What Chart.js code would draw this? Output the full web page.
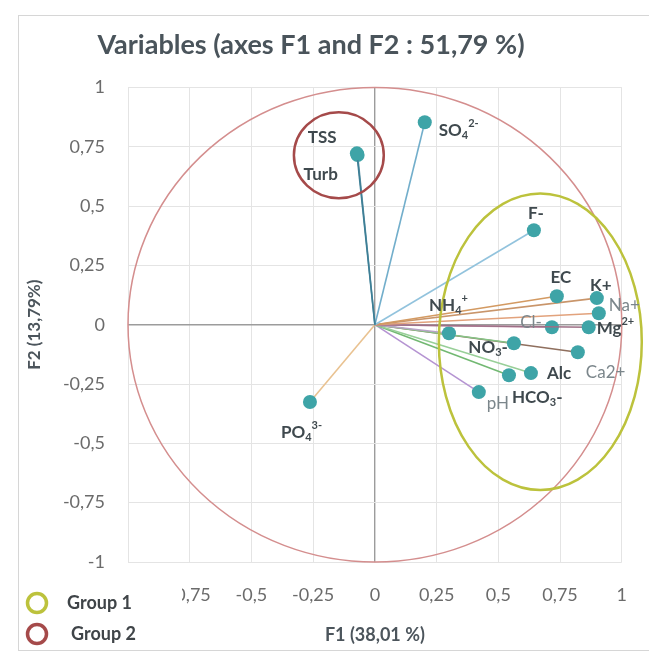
<!DOCTYPE html>
<html>
<head>
<meta charset="utf-8">
<script src="https://cdn.jsdelivr.net/npm/chart.js@4/dist/chart.umd.min.js"></script>
<style>
  body { margin: 0; background: #fff; }
  #wrap { width: 649px; height: 657px; }
</style>
</head>
<body>
<div id="wrap"><canvas id="pca" width="649" height="657"></canvas></div>
<script>
// valori (coordinate F1 / F2 delle variabili)
const variables = ['TSS', 'Turb', 'SO4', 'F-', 'EC', 'K+', 'Na+', 'Mg2+', 'Cl-', 'NH4+', 'NO3-', 'Ca2+', 'Alc', 'HCO3-', 'pH', 'PO4'];
const labelText = ['TSS', 'Turb', 'SO_4^2-', 'F-', 'EC', 'K+', 'Na+', 'Mg^2+', 'Cl-', 'NH_4^+', 'NO_3-', 'Ca2+', 'Alc', 'HCO_3-', 'pH', 'PO_4^3-'];
const f1 = [-0.073, -0.07, 0.202, 0.644, 0.737, 0.899, 0.907, 0.866, 0.717, 0.300, 0.563, 0.822, 0.632, 0.543, 0.421, -0.263];
const f2 = [0.722, 0.715, 0.853, 0.398, 0.120, 0.112, 0.048, -0.011, -0.011, -0.036, -0.078, -0.116, -0.204, -0.213, -0.284, -0.326];
const axisTicks = [-1, -0.75, -0.5, -0.25, 0, 0.25, 0.5, 0.75, 1];
const groupNames = ['Group 1', 'Group 2'];
// ellissi dei gruppi: centro e raggi in unita' degli assi
const group1 = { cx: 0.67, cy: -0.072, rx: 0.411, ry: 0.625 };
const group2 = { cx: -0.146, cy: 0.714, rx: 0.182, ry: 0.181 };

// stile
const lineColors = ['#3d7f96', '#5b8fa3', '#72aecb', '#92c3dd', '#d39a62', '#c9956a', '#e2a27c', '#9e6f86',
  '#c893ae', '#b9a3c7', '#86c486', '#8f6f5e', '#98cf98', '#72b872', '#b594d2', '#e9c291'];
// posizione delle etichette rispetto al punto (pixel)
const labelPos = {
  'TSS': [-49, -16, 'left', true], 'Turb': [-54, 19, 'left', true], 'SO4': [14, 8, 'left', true],
  'F-': [2, -17, 'center', true], 'EC': [4, -19, 'center', true], 'K+': [4, -13, 'center', true],
  'Na+': [10, -8, 'left', false], 'Mg2+': [8, 1, 'left', true], 'Cl-': [-10, -5, 'right', false],
  'NH4+': [-20, -28, 'left', true], 'NO3-': [-6, 4, 'right', true], 'Ca2+': [8, 20, 'left', false],
  'Alc': [16, 0, 'left', true], 'HCO3-': [3, 22, 'left', true], 'pH': [8, 11, 'left', false],
  'PO4': [-29, 30, 'left', true]
};
const FONT = 'Lato, "Open Sans", sans-serif';

function fmt(v) { return String(v).replace('.', ','); }

// scrive testo con pedici (_) e apici (^)
function parseLabel(s) {
  let segs = [], mode = 'n', cur = '';
  for (let ch of s) {
    if (ch === '_' || ch === '^') {
      if (cur) segs.push({ t: cur, m: mode });
      cur = ''; mode = ch === '_' ? 'sub' : 'sup';
    } else if (mode === 'sub' && !/[0-9]/.test(ch)) {
      if (cur) segs.push({ t: cur, m: mode });
      cur = ch; mode = 'n';
    } else cur += ch;
  }
  if (cur) segs.push({ t: cur, m: mode });
  return segs;
}

function drawRich(ctx, s, x, y, align, bold) {
  const segs = parseLabel(s);
  const w = bold ? 'bold ' : '';
  const big = w + '17px ' + FONT, small = w + '11px ' + FONT;
  let total = 0;
  segs.forEach(g => { ctx.font = g.m === 'n' ? big : small; total += ctx.measureText(g.t).width; });
  let sx = align === 'left' ? x : align === 'right' ? x - total : x - total / 2;
  ctx.textAlign = 'left';
  ctx.textBaseline = 'middle';
  segs.forEach(g => {
    ctx.font = g.m === 'n' ? big : small;
    let dy = g.m === 'sub' ? 5 : g.m === 'sup' ? -7 : 0;
    ctx.fillText(g.t, sx, y + dy);
    sx += ctx.measureText(g.t).width;
  });
}

const decor = {
  id: 'decor',
  beforeDraw(chart) {
    const ctx = chart.ctx;
    ctx.save();
    ctx.strokeStyle = '#d6d6d6';
    ctx.lineWidth = 1;
    ctx.strokeRect(18.5, 15.5, 700, 635);
    ctx.restore();
  },
  beforeDatasetsDraw(chart) {
    const { ctx, scales: { x, y } } = chart;
    const ux = x.getPixelForValue(1) - x.getPixelForValue(0);
    const uy = y.getPixelForValue(0) - y.getPixelForValue(1);
    ctx.save();
    ctx.strokeStyle = '#d48e8e';
    ctx.lineWidth = 1.5;
    ctx.beginPath();
    ctx.ellipse(x.getPixelForValue(0), y.getPixelForValue(0), ux, uy, 0, 0, Math.PI * 2);
    ctx.stroke();
    ctx.restore();
  },
  afterDatasetsDraw(chart) {
    const { ctx, scales: { x, y } } = chart;
    const ux = x.getPixelForValue(1) - x.getPixelForValue(0);
    const uy = y.getPixelForValue(0) - y.getPixelForValue(1);
    ctx.save();
    [[group1, '#bcc23c'], [group2, '#a54a4a']].forEach(([g, c]) => {
      ctx.strokeStyle = c;
      ctx.lineWidth = 2.5;
      ctx.beginPath();
      ctx.ellipse(x.getPixelForValue(g.cx), y.getPixelForValue(g.cy), g.rx * ux, g.ry * uy, 0, 0, Math.PI * 2);
      ctx.stroke();
    });
    // etichette delle variabili
    variables.forEach((v, i) => {
      const p = labelPos[v];
      const px = x.getPixelForValue(f1[i]), py = y.getPixelForValue(f2[i]);
      ctx.fillStyle = p[3] ? '#3f494e' : '#7b868b';
      drawRich(ctx, labelText[i], px + p[0], py + p[1], p[2], p[3]);
    });
    ctx.restore();
  },
  afterDraw(chart) {
    const ctx = chart.ctx;
    ctx.save();
    // riquadro legenda (copre parte delle etichette dell'asse x come nell'originale)
    ctx.fillStyle = '#ffffff';
    ctx.fillRect(19, 578, 163, 71);
    const cols = ['#bcc23c', '#a54a4a'];
    groupNames.forEach((g, i) => {
      const cy = 603 + i * 31;
      ctx.strokeStyle = cols[i];
      ctx.lineWidth = 3.5;
      ctx.beginPath();
      ctx.arc(37, cy, 9.5, 0, Math.PI * 2);
      ctx.stroke();
      ctx.fillStyle = '#3f4448';
      ctx.font = 'bold 18px ' + FONT;
      ctx.textAlign = 'left';
      ctx.textBaseline = 'middle';
      ctx.fillText(g, 67 + i * 4, cy);
    });
    ctx.restore();
  }
};

const datasets = variables.map((v, i) => ({
  label: v,
  data: [{ x: 0, y: 0 }, { x: f1[i], y: f2[i] }],
  showLine: true,
  borderColor: lineColors[i],
  borderWidth: 1.6,
  pointRadius: [0, 7],
  pointBackgroundColor: '#3ea4a7',
  pointBorderWidth: 0
}));

function gridColor(c) { return c.tick && c.tick.value === 0 ? '#9c9c9c' : '#e4e4e4'; }
function gridWidth(c) { return c.tick && c.tick.value === 0 ? 1.4 : 1; }

const chart = new Chart(document.getElementById('pca'), {
  type: 'scatter',
  data: { datasets: datasets },
  options: {
    responsive: false,
    animation: false,
    layout: { padding: { left: 0, right: 27, top: 0, bottom: 0 } },
    plugins: {
      legend: { display: false },
      tooltip: { enabled: false },
      title: {
        display: true,
        text: 'Variables (axes F1 and F2 : 51,79 %)',
        color: '#4a545b',
        font: { family: FONT, size: 27, weight: 'bold' },
        padding: { top: 29, bottom: 26 }
      }
    },
    scales: {
      x: {
        type: 'linear', min: -1, max: 1,
        afterBuildTicks: s => { s.ticks = axisTicks.map(v => ({ value: v })); },
        afterFit: s => { s.height = 95; },
        grid: { color: gridColor, lineWidth: gridWidth, drawTicks: false },
        border: { display: false },
        ticks: { callback: fmt, padding: 22, color: '#6b6b6b', font: { family: FONT, size: 18 }, maxRotation: 0, autoSkip: false },
        title: { display: true, text: 'F1 (38,01 %)', color: '#4c555c', font: { family: FONT, size: 18, weight: 'bold' }, padding: { top: 0, bottom: 11 } }
      },
      y: {
        type: 'linear', min: -1, max: 1,
        afterBuildTicks: s => { s.ticks = axisTicks.map(v => ({ value: v })); },
        afterFit: s => { s.width = 128; },
        grid: { color: gridColor, lineWidth: gridWidth, drawTicks: false },
        border: { display: false },
        ticks: { callback: fmt, padding: 23, color: '#6b6b6b', font: { family: FONT, size: 18 }, autoSkip: false },
        title: { display: true, text: 'F2 (13,79%)', color: '#4c555c', font: { family: FONT, size: 17, weight: 'bold' }, padding: { top: 24, bottom: 0 } }
      }
    }
  },
  plugins: [decor]
});
</script>
</body>
</html>
